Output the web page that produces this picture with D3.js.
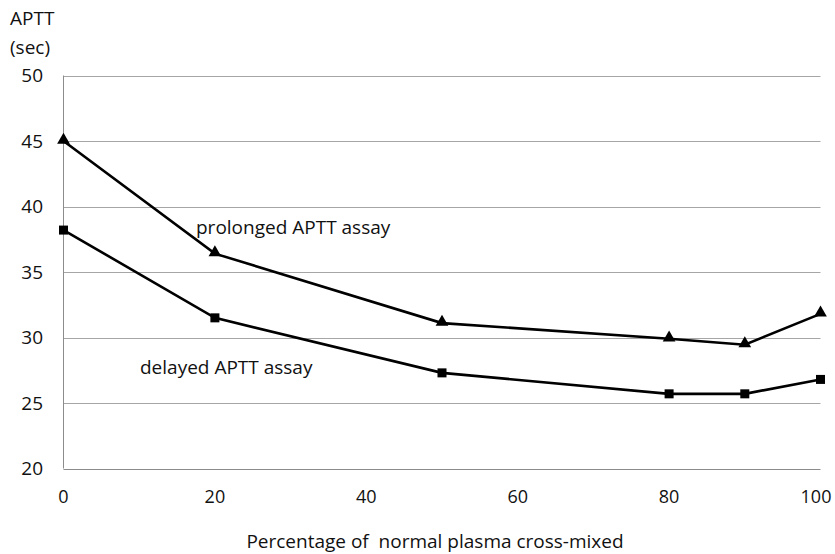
<!DOCTYPE html>
<html><head><meta charset="utf-8">
<script src="https://cdn.jsdelivr.net/npm/d3@7"></script>
<style>body{margin:0;background:#fff}svg{display:block}text{font-family:"Open Sans",sans-serif;fill:#111}</style>
</head><body>
<svg id="c" width="835" height="554"></svg>
<script>
const xValues = [0, 20, 50, 80, 90, 100];
const prolonged = [45, 36.4, 31.1, 29.9, 29.45, 31.8];
const delayed = [38.2, 31.5, 27.3, 25.7, 25.7, 26.8];
const yTicks = [20, 25, 30, 35, 40, 45, 50];
const xTicks = [0, 20, 40, 60, 80, 100];

const FS = 19;
const svg = d3.select("#c");
const x = d3.scaleLinear().domain([0, 100]).range([63.5, 820.5]);
const y = d3.scaleLinear().domain([20, 50]).range([468.5, 75.5]);

// gridlines
svg.append("g").selectAll("line").data(yTicks).join("line")
  .attr("x1", x(0)).attr("x2", x(100))
  .attr("y1", d => Math.round(y(d)) + 0.5).attr("y2", d => Math.round(y(d)) + 0.5)
  .attr("stroke", d => d === 20 ? "#8c8c8c" : "#a6a6a6").attr("stroke-width", 1);
svg.append("line").attr("x1", x(0)).attr("x2", x(0)).attr("y1", y(50)).attr("y2", y(20))
  .attr("stroke", "#8c8c8c");

// y tick labels
svg.append("g").selectAll("text").data(yTicks).join("text")
  .attr("x", 43).attr("y", d => y(d)).attr("dy", "0.35em").attr("text-anchor", "end")
  .attr("font-size", FS).text(d => d);
// x tick labels
svg.append("g").selectAll("text").data(xTicks).join("text")
  .attr("x", d => Math.min(x(d), 816)).attr("y", 497).attr("dy", "0.35em").attr("text-anchor", "middle")
  .attr("font-size", 18).text(d => d);

svg.append("text").attr("x", 10).attr("y", 18).attr("dy", "0.35em").attr("font-size", FS).text("APTT");
svg.append("text").attr("x", 10).attr("y", 47).attr("dy", "0.35em").attr("font-size", FS).text("(sec)");
svg.append("text").attr("x", 435).attr("y", 541).attr("dy", "0.35em").attr("text-anchor", "middle").attr("font-size", FS)
  .attr("xml:space", "preserve").text("Percentage of  normal plasma cross-mixed");

const line = d3.line().x((d, i) => x(xValues[i])).y(d => y(d));
[prolonged, delayed].forEach(s => {
  svg.append("path").attr("d", line(s)).attr("fill", "none").attr("stroke", "#000").attr("stroke-width", 2.6);
});
svg.append("g").selectAll("path").data(prolonged).join("path")
  .attr("d", d3.symbol().type(d3.symbolTriangle).size(70))
  .attr("transform", (d, i) => `translate(${x(xValues[i])},${y(d) - 1})`).attr("fill", "#000");
svg.append("g").selectAll("rect").data(delayed).join("rect")
  .attr("x", (d, i) => x(xValues[i]) - 4.5).attr("y", d => y(d) - 4.5)
  .attr("width", 9).attr("height", 9).attr("fill", "#000");

svg.append("text").attr("x", 196).attr("y", 227).attr("dy", "0.35em").attr("font-size", FS).text("prolonged APTT assay");
svg.append("text").attr("x", 140).attr("y", 367).attr("dy", "0.35em").attr("font-size", FS).text("delayed APTT assay");
</script>
</body></html>
